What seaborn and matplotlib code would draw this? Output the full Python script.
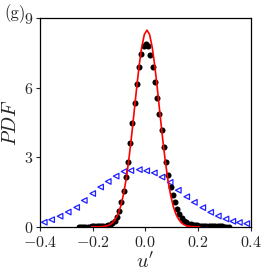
import numpy as np
import pandas as pd
import matplotlib
matplotlib.use("Agg")
import matplotlib.pyplot as plt
import seaborn as sns

# -----------------------
# Data
# -----------------------
# black dots: measured PDF
dns_u = [-0.253, -0.2445, -0.236, -0.2275, -0.219, -0.2105, -0.202, -0.1935,
         -0.185, -0.1765, -0.168, -0.1595, -0.151, -0.1425, -0.134, -0.1255,
         -0.117, -0.1085, -0.100, -0.0915, -0.083, -0.0745, -0.066, -0.0575,
         -0.049, -0.0405, -0.032, -0.0235, -0.015, -0.0065, 0.002, 0.0105,
         0.019, 0.0275, 0.036, 0.0445, 0.053, 0.0615, 0.070, 0.0785,
         0.087, 0.0955, 0.104, 0.1125, 0.121, 0.1295, 0.138, 0.1465,
         0.155, 0.1635, 0.172, 0.1805, 0.189, 0.1975, 0.206, 0.2145,
         0.223, 0.2315, 0.240, 0.2485, 0.257, 0.2655, 0.274, 0.2825,
         0.291, 0.2995, 0.308, 0.3165]
dns_pdf = [0.01, 0.01, 0.01, 0.01, 0.01, 0.01, 0.02, 0.02,
           0.02, 0.02, 0.03, 0.03, 0.04, 0.06, 0.08, 0.15,
           0.26, 0.44, 0.70, 1.06, 1.55, 2.17, 2.82, 3.61,
           4.47, 5.36, 6.17, 6.89, 7.45, 7.80, 7.89, 7.82,
           7.42, 6.92, 6.26, 5.56, 4.86, 4.16, 3.45, 2.80,
           2.22, 1.72, 1.38, 1.06, 0.79, 0.56, 0.40, 0.27,
           0.19, 0.14, 0.11, 0.09, 0.07, 0.06, 0.05, 0.05,
           0.04, 0.04, 0.03, 0.03, 0.03, 0.02, 0.02, 0.02,
           0.02, 0.01, 0.01, 0.01]

fit_u = [-0.204, -0.194, -0.184, -0.174, -0.164, -0.154, -0.144, -0.134,
         -0.124, -0.114, -0.104, -0.094, -0.084, -0.074, -0.064, -0.054,
         -0.044, -0.034, -0.024, -0.014, -0.004, 0.006, 0.016, 0.026,
         0.036, 0.046, 0.056, 0.066, 0.076, 0.086, 0.096, 0.106,
         0.116, 0.126, 0.136, 0.146, 0.156, 0.166, 0.176, 0.186,
         0.196, 0.206]
fit_pdf = [0.0, 0.0, 0.003, 0.006, 0.012, 0.026, 0.052, 0.10,
           0.185, 0.33, 0.55, 0.88, 1.36, 1.99, 2.80, 3.76,
           4.82, 5.91, 6.93, 7.75, 8.30, 8.49, 8.30, 7.75,
           6.93, 5.91, 4.82, 3.76, 2.80, 1.99, 1.36, 0.88,
           0.55, 0.33, 0.185, 0.10, 0.052, 0.026, 0.012, 0.006,
           0.003, 0.0]

# blue open triangles
model_u = [-0.384, -0.356, -0.324, -0.293, -0.261, -0.232, -0.200, -0.170,
           -0.141, -0.111, -0.081, -0.055, -0.023, 0.005, 0.034, 0.063,
           0.094, 0.125, 0.157, 0.186, 0.218, 0.248, 0.277, 0.306,
           0.332, 0.357, 0.385]
model_pdf = [0.20, 0.31, 0.46, 0.64, 0.84, 1.14, 1.44, 1.72,
             1.96, 2.19, 2.39, 2.43, 2.47, 2.42, 2.33, 2.15,
             1.92, 1.58, 1.30, 1.06, 0.83, 0.63, 0.47, 0.34,
             0.24, 0.19, 0.14]

x_ticks = [-0.4, -0.2, 0.0, 0.2, 0.4]
y_ticks = [0, 3, 6, 9]

dns = pd.DataFrame({"u": dns_u, "pdf": dns_pdf})
fit = pd.DataFrame({"u": fit_u, "pdf": fit_pdf})
model = pd.DataFrame({"u": model_u, "pdf": model_pdf})

# -----------------------
# Style
# -----------------------
sns.set_style("ticks")
plt.rcParams["font.family"] = ["cmr10", "DejaVu Serif"]
plt.rcParams["mathtext.fontset"] = "cm"
plt.rcParams["axes.formatter.use_mathtext"] = True
plt.rcParams["axes.unicode_minus"] = True

fig = plt.figure(figsize=(2.67, 2.74), dpi=100)
ax = fig.add_axes([0.150, 0.172, 0.789, 0.761])

sns.scatterplot(data=model, x="u", y="pdf", ax=ax, marker="<", s=16,
                facecolor="none", edgecolor="#1f1fff", linewidth=0.9, zorder=2)
sns.scatterplot(data=dns, x="u", y="pdf", ax=ax, marker="o", s=19,
                color="black", edgecolor="black", linewidth=0, zorder=3)
sns.lineplot(data=fit, x="u", y="pdf", ax=ax, color="red", linewidth=1.2,
             zorder=4)

ax.set_xlim(-0.4, 0.4)
ax.set_ylim(0, 9)
ax.set_xticks(x_ticks)
ax.set_yticks(y_ticks)
ax.set_xticklabels(["$-0.4$", "$-0.2$", "$0.0$", "$0.2$", "$0.4$"])
ax.set_yticklabels(["$0$", "$3$", "$6$", "$9$"])
ax.tick_params(labelsize=11.5, length=3, width=0.8)
ax.tick_params(axis="x", pad=3)
ax.tick_params(axis="y", pad=2)
ax.set_xlabel("$u'$", fontsize=14.5, labelpad=1)
ax.set_ylabel("$PDF$", fontsize=14.5, labelpad=3)
for sp in ax.spines.values():
    sp.set_visible(True)
    sp.set_linewidth(0.9)
    sp.set_color("black")

fig.text(0.055, 0.950, "(g)", fontsize=12, ha="center", va="center")

fig.savefig("out.png", dpi=100)
